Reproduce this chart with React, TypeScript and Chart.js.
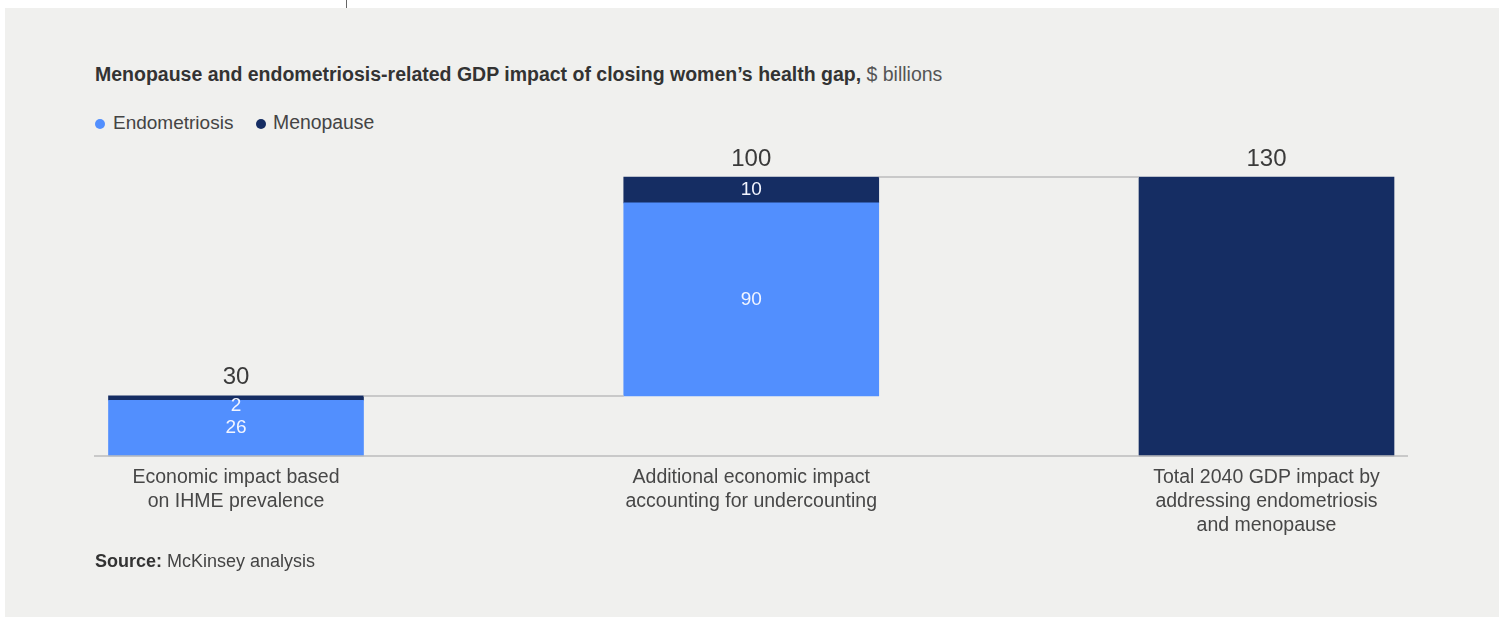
import React, { useEffect, useRef } from "react";
import { Chart, registerables } from "chart.js";

Chart.register(...registerables);

// ---------- data ----------
const categories: string[][] = [
  ["Economic impact based", "on IHME prevalence"],
  ["Additional economic impact", "accounting for undercounting"],
  ["Total 2040 GDP impact by", "addressing endometriosis", "and menopause"],
];
// segment sizes of the two contributing bars, $ billions (as drawn)
const endometriosis = [26, 90];
const menopause = [2, 12];
// total bar
const totalImpact = 130;
// printed labels
const totalLabels = ["30", "100", "130"];
const endometriosisLabels = ["26", "90"];
const menopauseLabels = ["2", "10"];
const yMax = 140;

const BLUE = "#528ffe";
const NAVY = "#152d63";
const FONT = "'Liberation Sans', Arial, Helvetica, sans-serif";

function buildData() {
  const endoData: ([number, number] | null)[] = [];
  const menoData: ([number, number] | null)[] = [];
  let run = 0;
  for (let i = 0; i < endometriosis.length; i++) {
    endoData.push([run, run + endometriosis[i]]);
    run += endometriosis[i];
    menoData.push([run, run + menopause[i]]);
    run += menopause[i];
  }
  endoData.push(null);
  menoData.push(null);
  const totalData: ([number, number] | null)[] = categories.map((_, i) =>
    i === categories.length - 1 ? [0, totalImpact] : null
  );
  return { endoData, menoData, totalData };
}

const overlayPlugin = {
  id: "overlay",
  afterDatasetsDraw(chart: any) {
    const ctx = chart.ctx as CanvasRenderingContext2D;
    const area = chart.chartArea;
    const endoMeta = chart.getDatasetMeta(0);
    const menoMeta = chart.getDatasetMeta(1);
    const totMeta = chart.getDatasetMeta(2);
    ctx.save();

    // baseline axis
    ctx.strokeStyle = "#bcbcbc";
    ctx.lineWidth = 1.5;
    ctx.beginPath();
    ctx.moveTo(94, area.bottom);
    ctx.lineTo(1408, area.bottom);
    ctx.stroke();

    // bar tops / edges
    const bars = categories.map((_, i) => {
      const el = i < endometriosis.length ? menoMeta.data[i] : totMeta.data[i];
      return { top: el.y, left: el.x - el.width / 2, right: el.x + el.width / 2, x: el.x };
    });

    // connectors
    ctx.strokeStyle = "#bcbcbc";
    ctx.lineWidth = 1.5;
    for (let i = 0; i < bars.length - 1; i++) {
      ctx.beginPath();
      ctx.moveTo(bars[i].right, bars[i].top);
      ctx.lineTo(bars[i + 1].left, bars[i].top);
      ctx.stroke();
    }

    // totals above bars
    ctx.fillStyle = "#3a3a3a";
    ctx.font = `24px ${FONT}`;
    ctx.textAlign = "center";
    ctx.textBaseline = "alphabetic";
    bars.forEach((b, i) => {
      ctx.fillText(totalLabels[i], b.x, b.top - 11.5);
    });

    // segment labels
    ctx.fillStyle = "#f2f5ff";
    ctx.font = `19px ${FONT}`;
    ctx.textBaseline = "middle";
    for (let i = 0; i < endometriosis.length; i++) {
      const e = endoMeta.data[i];
      ctx.fillText(endometriosisLabels[i], e.x, (e.y + e.base) / 2);
      const m = menoMeta.data[i];
      const h = m.base - m.y;
      ctx.fillText(menopauseLabels[i], m.x, m.y + Math.max(h / 2, 10));
    }
    ctx.restore();
  },
};

export default function App() {
  const canvasRef = useRef<HTMLCanvasElement | null>(null);

  useEffect(() => {
    if (!canvasRef.current) return;
    const { endoData, menoData, totalData } = buildData();
    const common = {
      grouped: false,
      barThickness: 255,
      borderWidth: 0,
      borderSkipped: false,
      clip: false,
    };
    const chart = new Chart(canvasRef.current, {
      type: "bar",
      data: {
        labels: categories as any,
        datasets: [
          { label: "Endometriosis", data: endoData as any, backgroundColor: BLUE, ...common } as any,
          { label: "Menopause", data: menoData as any, backgroundColor: NAVY, ...common } as any,
          { label: "Total", data: totalData as any, backgroundColor: NAVY, ...common } as any,
        ],
      },
      options: {
        responsive: false,
        animation: false,
        devicePixelRatio: 1,
        layout: { padding: { top: 55.6, left: 236, right: 236.5, bottom: 0 } },
        plugins: {
          legend: { display: false },
          tooltip: { enabled: false },
          title: { display: false },
        },
        scales: {
          x: {
            type: "category",
            offset: false,
            grid: { display: false, drawTicks: false },
            border: { display: false },
            ticks: {
              color: "#474747",
              padding: 10,
              autoSkip: false,
              maxRotation: 0,
              minRotation: 0,
              font: { family: FONT, size: 19.5, lineHeight: "24px" },
            },
            afterFit: (s: any) => {
              s.height = 104;
            },
          },
          y: {
            display: false,
            min: 0,
            max: yMax,
          },
        },
      } as any,
      plugins: [overlayPlugin],
    });
    return () => chart.destroy();
  }, []);

  const textBase: React.CSSProperties = {
    position: "absolute",
    fontFamily: FONT,
    whiteSpace: "nowrap",
    margin: 0,
  };

  return (
    <div style={{ position: "absolute", left: 0, top: 0, width: 1503, height: 618, background: "#ffffff", overflow: "hidden" }}>
      <div style={{ position: "absolute", left: 346, top: 0, width: 1, height: 8, background: "#666" }} />
      <div style={{ position: "absolute", left: 5, top: 8, width: 1494, height: 609, background: "#f0f0ee" }} />
      <div style={{ ...textBase, left: 95, top: 64.5, fontSize: 19.5, lineHeight: "19.5px", color: "#333" }}>
        <span style={{ fontWeight: 700 }}>Menopause and endometriosis-related GDP impact of closing women’s health gap,</span>
        <span style={{ fontWeight: 400, color: "#555" }}> $ billions</span>
      </div>
      <div style={{ position: "absolute", left: 95, top: 119, width: 10, height: 10, borderRadius: "50%", background: BLUE }} />
      <div style={{ ...textBase, left: 113, top: 112.9, fontSize: 19, lineHeight: "19px", color: "#444" }}>Endometriosis</div>
      <div style={{ position: "absolute", left: 256, top: 119, width: 10, height: 10, borderRadius: "50%", background: NAVY }} />
      <div style={{ ...textBase, left: 273, top: 112.9, fontSize: 19.4, lineHeight: "19px", color: "#444" }}>Menopause</div>
      <canvas
        ref={canvasRef}
        width={1503}
        height={460}
        style={{ position: "absolute", left: 0, top: 100, width: 1503, height: 460 }}
      />
      <div style={{ ...textBase, left: 95, top: 551.8, fontSize: 18, lineHeight: "18px", color: "#333" }}>
        <span style={{ fontWeight: 700 }}>Source:</span>
        <span style={{ fontWeight: 400, color: "#444" }}> McKinsey analysis</span>
      </div>
    </div>
  );
}
